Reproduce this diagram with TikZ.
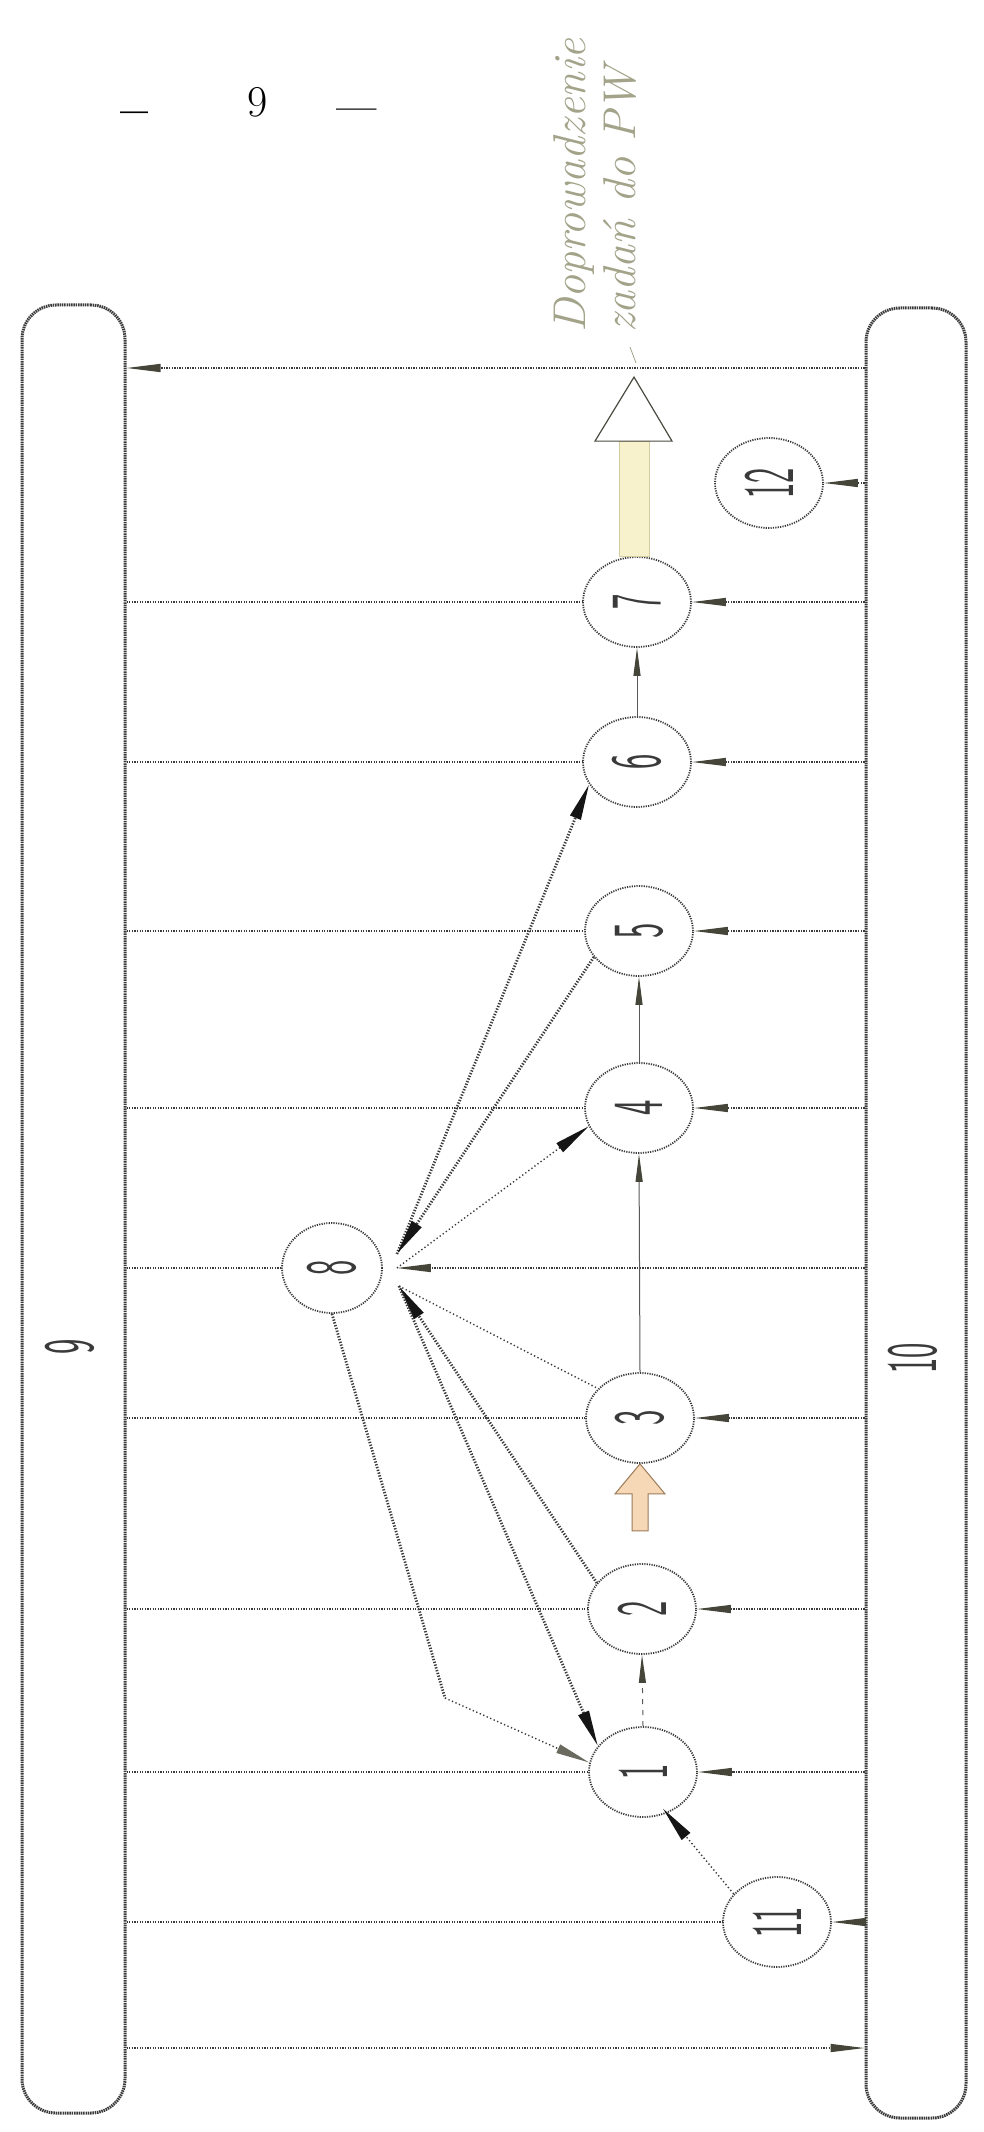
\documentclass[tikz,border=0pt]{standalone}
\usepackage{graphicx}
\usetikzlibrary{shapes.geometric,arrows.meta,calc}
\definecolor{ink}{HTML}{3A3A3A}
\definecolor{wedgec}{HTML}{45453A}
\definecolor{fanc}{HTML}{151515}
\definecolor{grayw}{HTML}{6A6A5E}
\definecolor{hand}{HTML}{A3A38A}
\definecolor{shaftc}{HTML}{F7F2CC}
\definecolor{shaftedge}{HTML}{D2CDA0}
\definecolor{headedge}{HTML}{4A4A40}
\definecolor{orangef}{HTML}{F6D8B6}
\definecolor{orangee}{HTML}{9C7B5A}
\newcommand\dig[1]{\rotatebox{90}{\scalebox{0.45}[1]{\fontsize{72}{72}\selectfont\sffamily #1}}}
\tikzset{
  hw/.tip={Triangle[length=34pt,width=8pt,color=wedgec]},
  vw/.tip={Triangle[length=28pt,width=7pt,color=wedgec]},
  fw/.tip={Triangle[length=36pt,width=11pt,color=fanc]},
  gw/.tip={Triangle[length=34pt,width=9pt,color=grayw]},
}
\begin{document}
\begin{tikzpicture}[x=1pt,y=-1pt,
  stt/.style={ellipse,draw=ink,line width=1.8pt,dash pattern=on 1.2pt off 1.2pt,
    minimum width=108pt,minimum height=90pt,inner sep=0pt,text=ink},
  barbox/.style={draw=ink,line width=3pt,dash pattern=on 1.5pt off 0.8pt,
    rounded corners=34pt,inner sep=0pt},
  hline/.style={draw=ink,line width=1.3pt,dash pattern=on 1.3pt off 1.3pt},
  vline/.style={draw=ink!85,line width=1pt},
  fanthick/.style={draw=ink,line width=2.8pt,dash pattern=on 1.3pt off 1.6pt},
  fanthin/.style={draw=ink,line width=1.4pt,dash pattern=on 1.3pt off 2.5pt},
]
\fill[white] (0,0) rectangle (983,2132);
\useasboundingbox (0,0) rectangle (983,2132);

% page number
\node[text=black,font=\fontsize{50}{50}\selectfont\bfseries] (d1) at (135,119) {–};
\node[text=black,font=\fontsize{44}{44}\selectfont] (pg) at (258,102) {9};
\node[text=black,font=\fontsize{36}{36}\selectfont\bfseries] (d2) at (357,114) {—};

% bars
\node[barbox,minimum width=103pt,minimum height=1808pt] (lb) at (73.5,1209) {};
\node[barbox,minimum width=100pt,minimum height=1810pt] (rb) at (916,1213) {};
\node[text=ink,inner sep=0pt] (l9) at (70,1347) {\dig{9}};
\node[text=ink,inner sep=0pt] (l10) at (913,1358) {\dig{10}};

% states
\node[stt] (c12) at (769,483) {\dig{12}};
\node[stt] (c7) at (637,602) {\dig{7}};
\node[stt] (c6) at (637,762) {\dig{6}};
\node[stt] (c5) at (639,931) {\dig{5}};
\node[stt] (c4) at (639,1108) {\dig{4}};
\node[stt,minimum width=100pt] (c8) at (332,1268) {\dig{8}};
\node[stt] (c3) at (640,1418) {\dig{3}};
\node[stt] (c2) at (642,1609) {\dig{2}};
\node[stt] (c1) at (643,1772) {\dig{1}};
\node[stt] (c11) at (777,1922) {\dig{11}};

% handwritten note
\node[rotate=90,anchor=west,inner sep=0pt,text=hand,align=left,
  font=\fontsize{46}{50}\selectfont\itshape] (txt) at (595,333) {Doprowadzenie\\zadań do PW};
\coordinate (ld1) at (630,347);
\coordinate (ld2) at (636,363);
\draw[hand,line width=0.8pt] (ld1) -- (ld2);

% top and bottom lines
\coordinate (ytop) at (500,368);
\coordinate (ybot) at (500,2048);
\draw[hline,-hw] (rb.west |- ytop) -- (lb.east |- ytop);
\draw[hline,-hw] (lb.east |- ybot) -- (rb.west |- ybot);

% horizontal lines to states
\draw[hline,-hw] (rb.west |- c12) -- (c12.east);
\foreach \c in {c7,c6,c5,c4,c3,c2,c1,c11,c8}{
  \draw[hline] (lb.east |- \c) -- (\c.west);
}
\foreach \c in {c7,c6,c5,c4,c3,c2,c1,c11}{
  \draw[hline,-hw] (rb.west |- \c) -- (\c.east);
}
\coordinate (j8u) at ($(c8.east)+(14,-14)$);
\coordinate (j8m) at ($(c8.east)+(14,0)$);
\coordinate (j8l) at ($(c8.east)+(16,18)$);
\draw[hline,-hw] (rb.west |- c8) -- (j8m);

% vertical connectors
\draw[vline,-vw] (c6.north) -- (c7.south);
\draw[vline,-vw] (c4.north) -- (c5.south);
\draw[vline,-vw] (c3.north) -- (c4.south);
\draw[vline,dash pattern=on 5pt off 6pt,-vw] (c1.north) -- (c2.south);
\draw[fanthin,-fw,shorten >=-6pt] (c11.147) -- (c1.-60);

% fan around state 8
\draw[fanthick,-fw] (j8u) -- (c6.205);
\draw[fanthick,-fw] (c5.210) -- (j8u);
\draw[fanthin,-fw] (j8m) -- (c4.200);
\draw[fanthin] (j8l) -- (c3.145);
\draw[fanthick,-fw] (c2.150) -- (j8l);
\draw[fanthick,-fw] (j8l) -- (c1.150);
\coordinate (gk) at (445,1698);
\draw[fanthick] (c8.south) -- (gk);
\draw[fanthin,-gw] (gk) -- (c1.170);

% big output arrow from state 7
\fill[shaftc,draw=shaftedge,line width=1pt]
  ($(c7.north)+(-18,0)$) rectangle ($(c7.north)+(12,-115)$);
\filldraw[fill=white,draw=headedge,line width=1.2pt]
  ($(c7.north)+(-42,-115)$) -- ($(c7.north)+(-3,-179)$) -- ($(c7.north)+(35,-115)$) -- cycle;

% orange input arrow into state 3
\filldraw[fill=orangef,draw=orangee,line width=1pt]
  (c3.south) -- ($(c3.south)+(25,30)$) -- ($(c3.south)+(8,30)$) -- ($(c3.south)+(8,67)$)
  -- ($(c3.south)+(-8,67)$) -- ($(c3.south)+(-8,30)$) -- ($(c3.south)+(-25,30)$) -- cycle;
\end{tikzpicture}
\end{document}
